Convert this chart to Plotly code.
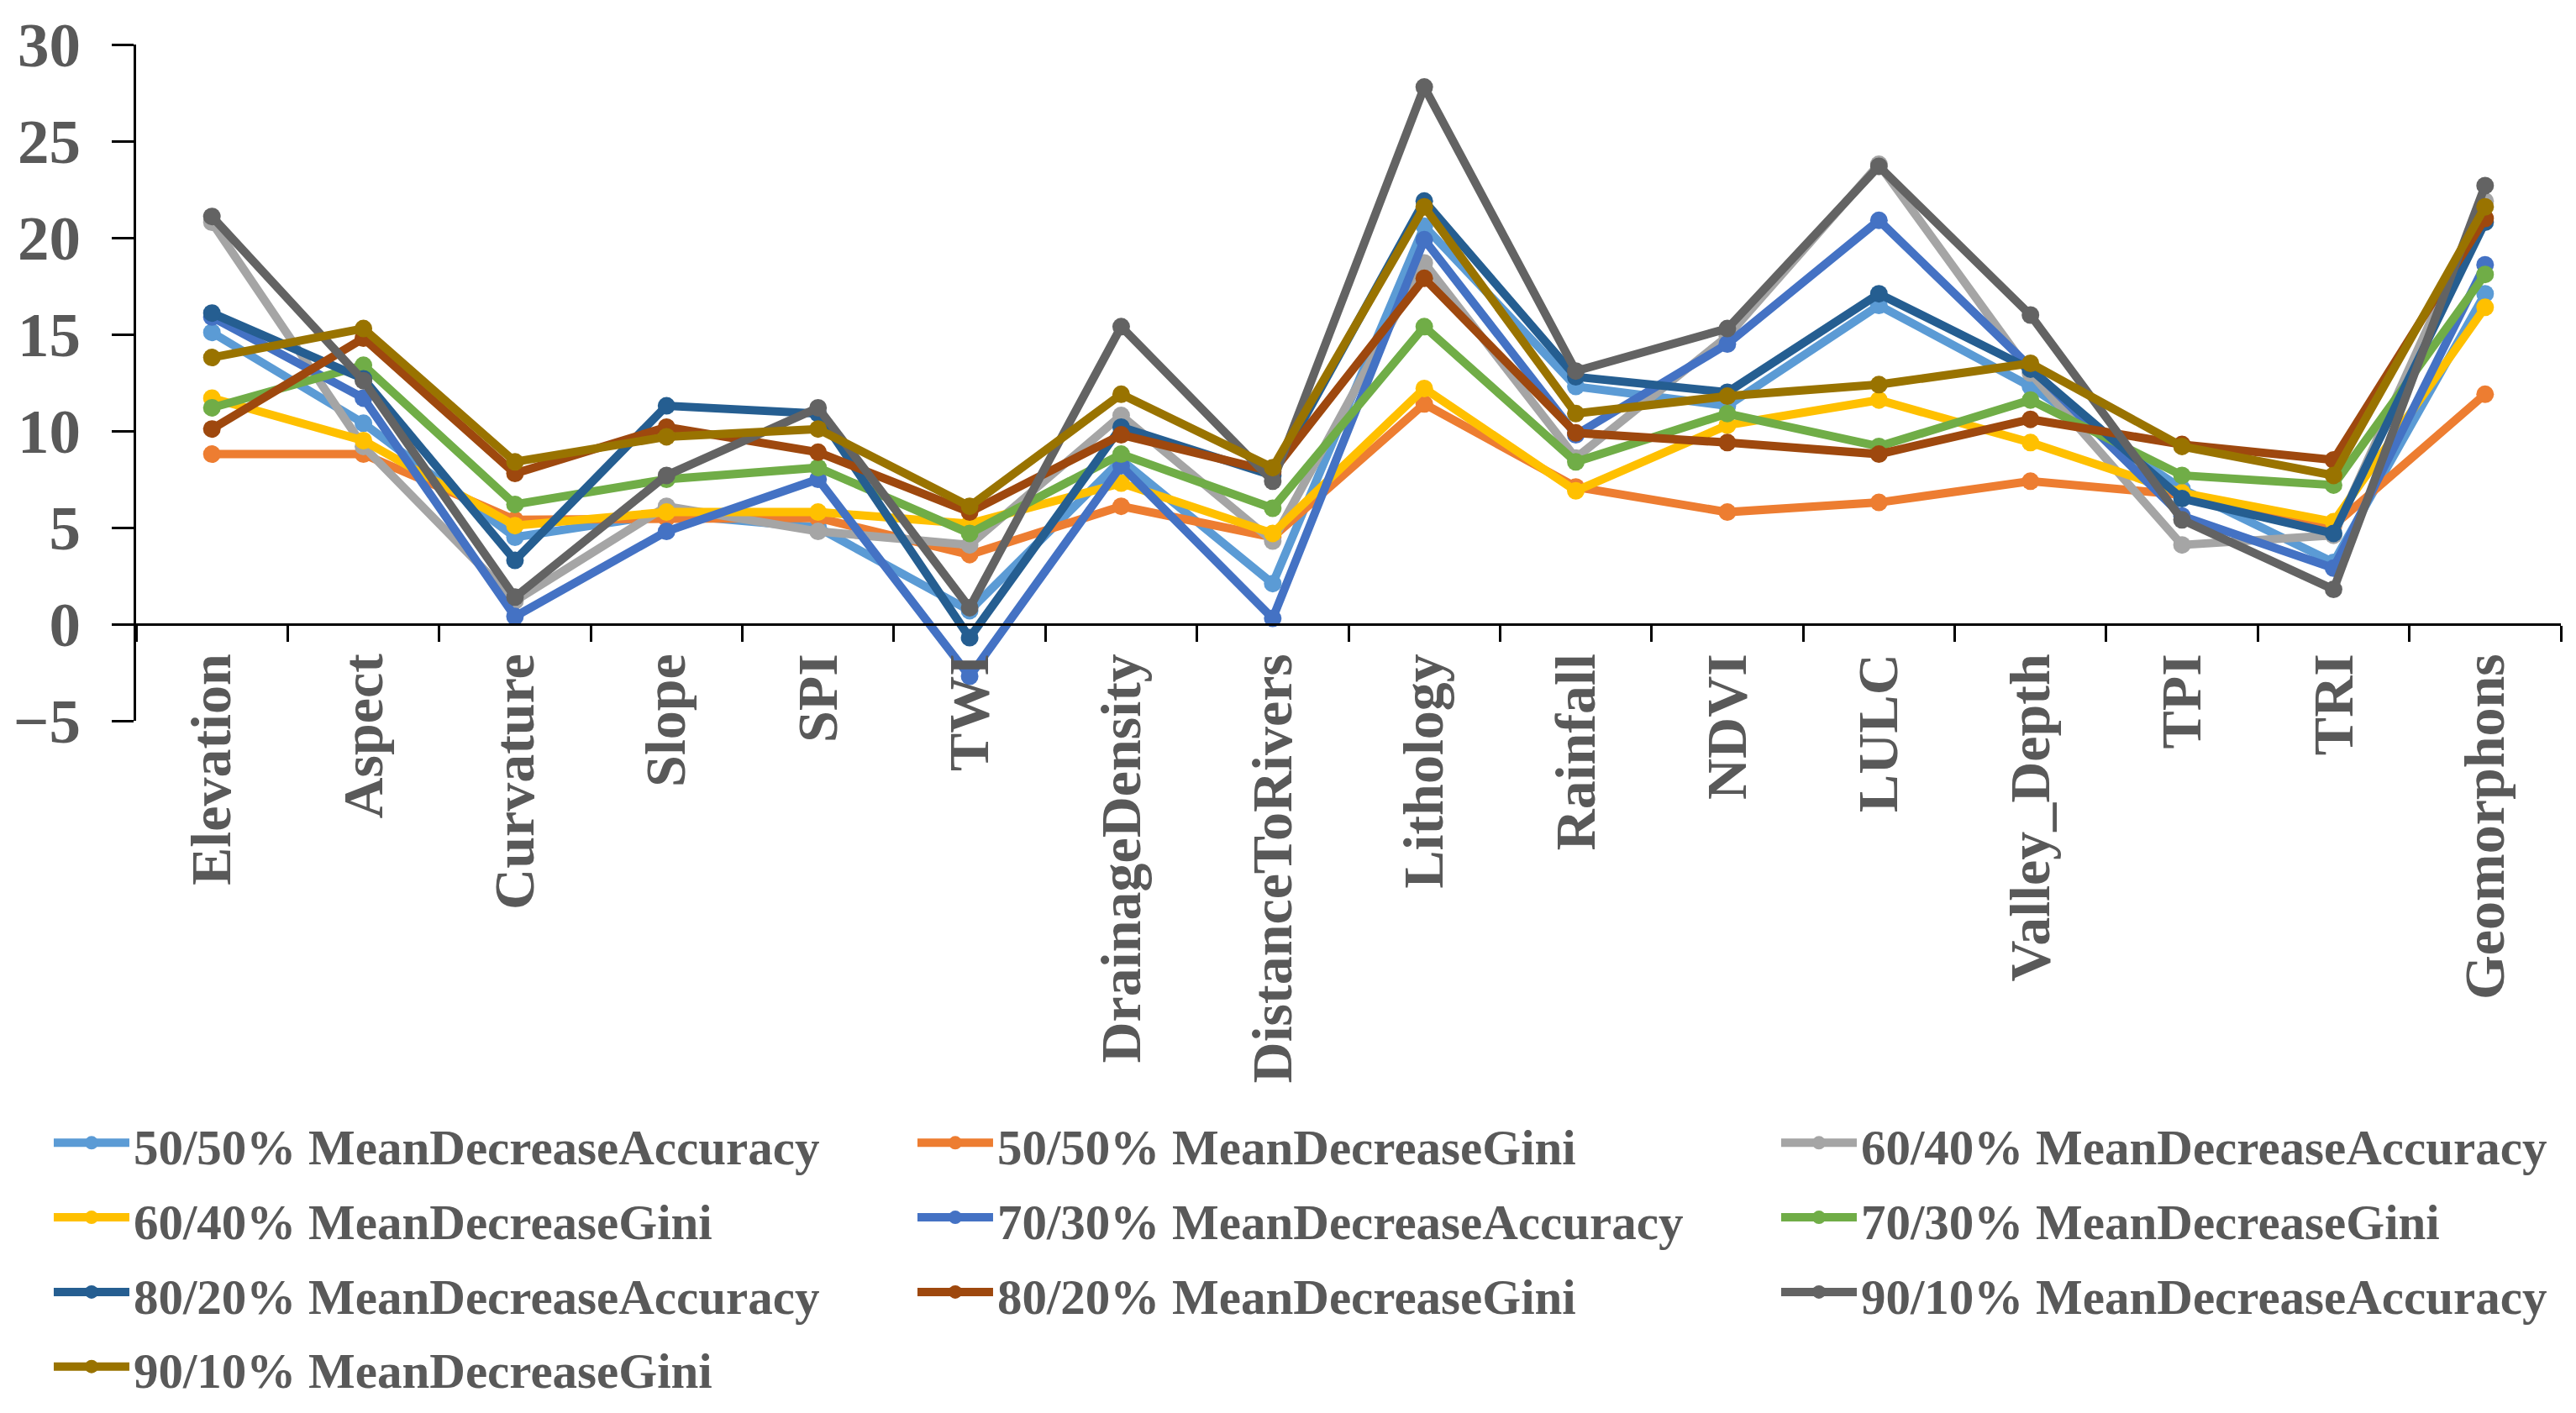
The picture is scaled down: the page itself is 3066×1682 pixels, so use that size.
import plotly.graph_objects as go

categories = ["Elevation", "Aspect", "Curvature", "Slope", "SPI", "TWI",
              "DrainageDensity", "DistanceToRivers", "Lithology", "Rainfall",
              "NDVI", "LULC", "Valley_Depth", "TPI", "TRI", "Geomorphons"]

acc_50 = [15.1, 10.4, 4.5, 5.7, 5.0, 0.7, 8.5, 2.1, 20.6, 12.3, 11.3, 16.5, 12.3, 7.0, 3.2, 17.1]
gini_50 = [8.8, 8.8, 5.4, 5.5, 5.5, 3.6, 6.1, 4.5, 11.4, 7.1, 5.8, 6.3, 7.4, 6.7, 5.1, 11.9]
acc_60 = [20.8, 9.2, 1.2, 6.1, 4.8, 4.1, 10.8, 4.3, 18.7, 8.6, 14.9, 23.8, 13.0, 4.1, 4.6, 21.9]
gini_60 = [11.7, 9.5, 5.1, 5.8, 5.8, 5.2, 7.3, 4.7, 12.2, 6.9, 10.3, 11.6, 9.4, 6.8, 5.3, 16.4]
acc_70 = [15.9, 11.7, 0.4, 4.8, 7.5, -2.7, 8.2, 0.3, 19.9, 9.8, 14.5, 20.9, 13.3, 5.6, 2.9, 18.6]
gini_70 = [11.2, 13.4, 6.2, 7.5, 8.1, 4.7, 8.8, 6.0, 15.4, 8.4, 10.9, 9.2, 11.6, 7.7, 7.2, 18.1]
acc_80 = [16.1, 12.7, 3.3, 11.3, 10.9, -0.7, 10.2, 7.7, 21.9, 12.8, 12.0, 17.1, 13.2, 6.5, 4.7, 20.8]
gini_80 = [10.1, 14.8, 7.8, 10.2, 8.9, 5.8, 9.8, 7.9, 17.9, 9.9, 9.4, 8.8, 10.6, 9.3, 8.5, 21.0]
acc_90 = [21.1, 12.6, 1.4, 7.7, 11.2, 0.85, 15.4, 7.4, 27.8, 13.1, 15.3, 23.7, 16.0, 5.4, 1.8, 22.7]
gini_90 = [13.8, 15.3, 8.4, 9.7, 10.1, 6.1, 11.9, 8.1, 21.6, 10.9, 11.8, 12.4, 13.5, 9.2, 7.7, 21.6]

series_names = ["50/50% MeanDecreaseAccuracy", "50/50% MeanDecreaseGini",
                "60/40% MeanDecreaseAccuracy", "60/40% MeanDecreaseGini",
                "70/30% MeanDecreaseAccuracy", "70/30% MeanDecreaseGini",
                "80/20% MeanDecreaseAccuracy", "80/20% MeanDecreaseGini",
                "90/10% MeanDecreaseAccuracy", "90/10% MeanDecreaseGini"]
series_values = [acc_50, gini_50, acc_60, gini_60, acc_70, gini_70,
                 acc_80, gini_80, acc_90, gini_90]
colors = ["#5B9BD5", "#ED7D31", "#A5A5A5", "#FFC000", "#4472C4",
          "#70AD47", "#255E91", "#9E480E", "#636363", "#997300"]

y_ticks = [-5, 0, 5, 10, 15, 20, 25, 30]

FONT = "Liberation Serif, Times New Roman, serif"
TXT = "#595959"
LEG_TEXT_SIZE = 59

# legend is laid out in three columns (row-major order as in the source)
col_widths = [923, 923, 820]

fig = go.Figure()
for i, (name, vals, col) in enumerate(zip(series_names, series_values, colors)):
    c = i % 3
    fig.add_trace(go.Scatter(
        x=categories, y=vals,
        name=f'<span style="font-size:{LEG_TEXT_SIZE}px">{name}</span>',
        legendgroup=f"col{c}", legendwidth=col_widths[c],
        mode="lines+markers",
        line=dict(color=col, width=10),
        marker=dict(color=col, size=21, symbol="circle"),
    ))

# page body has an 8px default margin; figure is sized to sit inside it
W, H = 3050, 1666
ml, mr, mt, mb = 154, 10, 45, 816

fig.update_layout(
    width=W, height=H,
    margin=dict(l=ml, r=mr, t=mt, b=mb, pad=0, autoexpand=False),
    paper_bgcolor="white", plot_bgcolor="white",
    font=dict(family=FONT, color=TXT, weight="bold"),
    showlegend=True,
    legend=dict(
        orientation="h", x=-0.0357, y=-0.5626, xanchor="left", yanchor="top",
        font=dict(family=FONT, size=66, color=TXT, weight="bold"),
        itemwidth=90, traceorder="grouped", tracegroupgap=0,
        bgcolor="rgba(0,0,0,0)",
    ),
    xaxis=dict(
        type="category", categoryorder="array", categoryarray=categories,
        range=[-0.5, 15.5], tickson="boundaries",
        ticks="outside", ticklen=19, tickwidth=3, tickcolor="black",
        showline=True, linecolor="black", linewidth=3,
        showgrid=False, zeroline=False,
        tickangle=-90, anchor="free", position=5 / 35,
        tickfont=dict(family=FONT, size=68, color=TXT, weight="bold"),
        ticklabelstandoff=6,
    ),
    yaxis=dict(
        range=[-5, 30], tickmode="array", tickvals=y_ticks,
        ticks="outside", ticklen=26, tickwidth=3, tickcolor="black",
        showline=True, linecolor="black", linewidth=3,
        showgrid=False, zeroline=False,
        tickfont=dict(family=FONT, size=75, color=TXT, weight="bold"),
        ticklabelstandoff=22,
    ),
)

fig.write_html("out.html")
